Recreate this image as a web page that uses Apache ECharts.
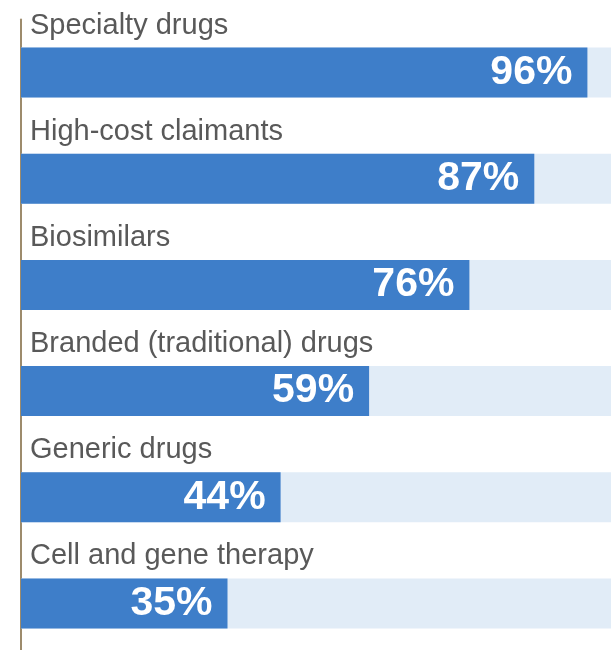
<!DOCTYPE html>
<html>
<head>
<meta charset="utf-8">
<script src="https://cdn.jsdelivr.net/npm/echarts@6/dist/echarts.min.js"></script>
<style>html,body{margin:0;padding:0;background:#fff}#c{width:615px;height:650px}</style>
</head>
<body>
<div id="c"></div>
<script>
const categories = ["Specialty drugs", "High-cost claimants", "Biosimilars", "Branded (traditional) drugs", "Generic drugs", "Cell and gene therapy"];
const values = [96, 87, 76, 59, 44, 35];

const chart = echarts.init(document.getElementById('c'), null, {renderer: 'canvas'});
chart.setOption({
  animation: false,
  grid: {left: 21, right: 4, top: 19.5, bottom: -6.5, outerBoundsMode: 'none'},
  xAxis: {type: 'value', min: 0, max: 100, show: false},
  yAxis: {
    type: 'category', data: categories, inverse: true, offset: 1,
    axisLine: {show: true, lineStyle: {color: '#9d8b6c', width: 2}},
    axisTick: {show: false}, axisLabel: {show: false}, splitLine: {show: false}
  },
  series: [
    {
      type: 'bar', data: values, barWidth: 50,
      itemStyle: {color: '#3e7ec9'},
      showBackground: true,
      backgroundStyle: {color: '#e1ecf7'},
      label: {show: true, position: 'insideRight', distance: 15, formatter: '{c}%',
        color: '#fff', fontWeight: 'bold', fontSize: 41, fontFamily: 'Liberation Sans, Arial, sans-serif'}
    },
    {
      type: 'bar', data: values, barWidth: 50, barGap: '-100%', silent: true,
      itemStyle: {color: 'rgba(0,0,0,0)'},
      label: {show: true, position: [9, -22], verticalAlign: 'middle', align: 'left', formatter: '{b}',
        color: '#595959', fontSize: 29, fontFamily: 'Liberation Sans, Arial, sans-serif'}
    }
  ]
});
</script>
</body>
</html>
